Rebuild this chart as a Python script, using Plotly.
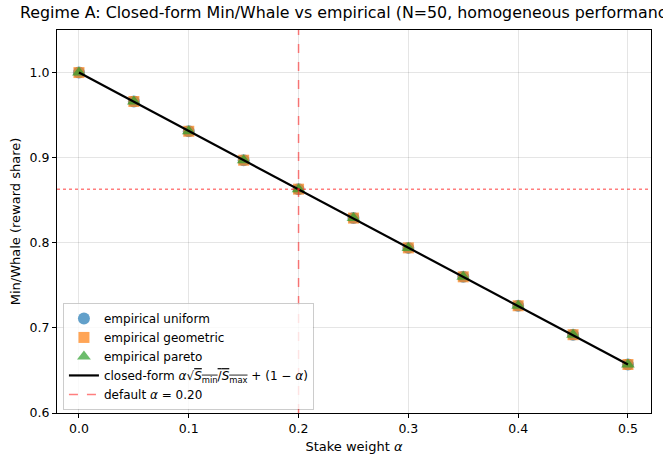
import plotly.graph_objects as go

alpha = [0.0, 0.05, 0.10, 0.15, 0.20, 0.25, 0.30, 0.35, 0.40, 0.45, 0.50]
emp_uniform = [1.000, 0.966, 0.931, 0.897, 0.863, 0.829, 0.794, 0.760, 0.726, 0.692, 0.657]
emp_geometric = [1.000, 0.966, 0.931, 0.897, 0.863, 0.829, 0.794, 0.760, 0.726, 0.692, 0.657]
emp_pareto = [1.000, 0.966, 0.931, 0.897, 0.863, 0.829, 0.794, 0.760, 0.726, 0.692, 0.657]
closed_x = [0.0, 0.5]
closed_y = [1.000, 0.657]
default_alpha = 0.20
default_value = 0.863

x_ticks = [0.0, 0.1, 0.2, 0.3, 0.4, 0.5]
y_ticks = [0.6, 0.7, 0.8, 0.9, 1.0]

font = "DejaVu Sans"
fig = go.Figure()

fig.add_trace(go.Scatter(x=alpha, y=emp_uniform, mode="markers", name="empirical uniform",
                         marker=dict(symbol="circle", size=12, color="rgba(31,119,180,0.7)",
                                     line=dict(width=0))))
fig.add_trace(go.Scatter(x=alpha, y=emp_geometric, mode="markers", name="empirical geometric",
                         marker=dict(symbol="square", size=11, color="rgba(255,127,14,0.7)",
                                     line=dict(width=0))))
fig.add_trace(go.Scatter(x=alpha, y=emp_pareto, mode="markers", name="empirical pareto",
                         marker=dict(symbol="triangle-up", size=12, color="rgba(44,160,44,0.7)",
                                     line=dict(width=0))))
fig.add_trace(go.Scatter(x=closed_x, y=closed_y, mode="lines",
                         name="closed-form <i>α</i>√<span style='text-decoration:overline'><i>S</i><sub>min</sub>/<i>S</i><sub>max</sub></span> + (1 − <i>α</i>)",
                         line=dict(color="black", width=2.2)))
fig.add_trace(go.Scatter(x=[default_alpha, default_alpha], y=[0.6, 1.05], mode="lines",
                         name="default <i>α</i> = 0.20",
                         line=dict(color="rgba(255,40,40,0.6)", width=1.5, dash="dash")))

fig.add_hline(y=default_value, line=dict(color="rgba(255,40,40,0.6)", width=1.5, dash="dot"))

axis_common = dict(showline=True, linecolor="black", linewidth=1, mirror=True,
                   ticks="outside", ticklen=4, tickcolor="black", automargin=False,
                   showgrid=True, gridcolor="rgba(0,0,0,0.1)", gridwidth=1, zeroline=False,
                   tickfont=dict(family=font, size=12.5, color="black"))

fig.update_layout(
    width=663, height=458,
    margin=dict(l=57, r=12, t=30, b=45),
    paper_bgcolor="white", plot_bgcolor="white",
    font=dict(family=font, size=12.5, color="black"),
    title=dict(text="Regime A: Closed-form Min/Whale vs empirical (N=50, homogeneous performance)",
               x=20/663, xanchor="left", xref="container", y=0.985, yanchor="top", yref="container",
               pad=dict(l=0, r=0, t=0, b=0), automargin=False,
               font=dict(family=font, size=15.85, color="black")),
    xaxis=dict(range=[-0.02, 0.521], tickvals=x_ticks, ticktext=[f"{v:.1f}" for v in x_ticks],
               title=dict(text="Stake weight <i>α</i>", font=dict(family=font, size=13), standoff=6),
               **axis_common),
    yaxis=dict(range=[0.6, 1.05], tickvals=y_ticks, ticktext=[f"{v:.1f}" for v in y_ticks],
               title=dict(text="Min/Whale (reward share)", font=dict(family=font, size=13), standoff=6),
               **axis_common),
    legend=dict(x=0.01, y=0.008, xanchor="left", yanchor="bottom",
                bgcolor="rgba(255,255,255,0.8)", bordercolor="rgba(0,0,0,0.2)", borderwidth=1,
                font=dict(family=font, size=12), tracegroupgap=0, itemwidth=30),
    showlegend=True,
)

fig.write_html("out.html", config={"displayModeBar": False},
               post_script="document.body.style.margin='0';")
